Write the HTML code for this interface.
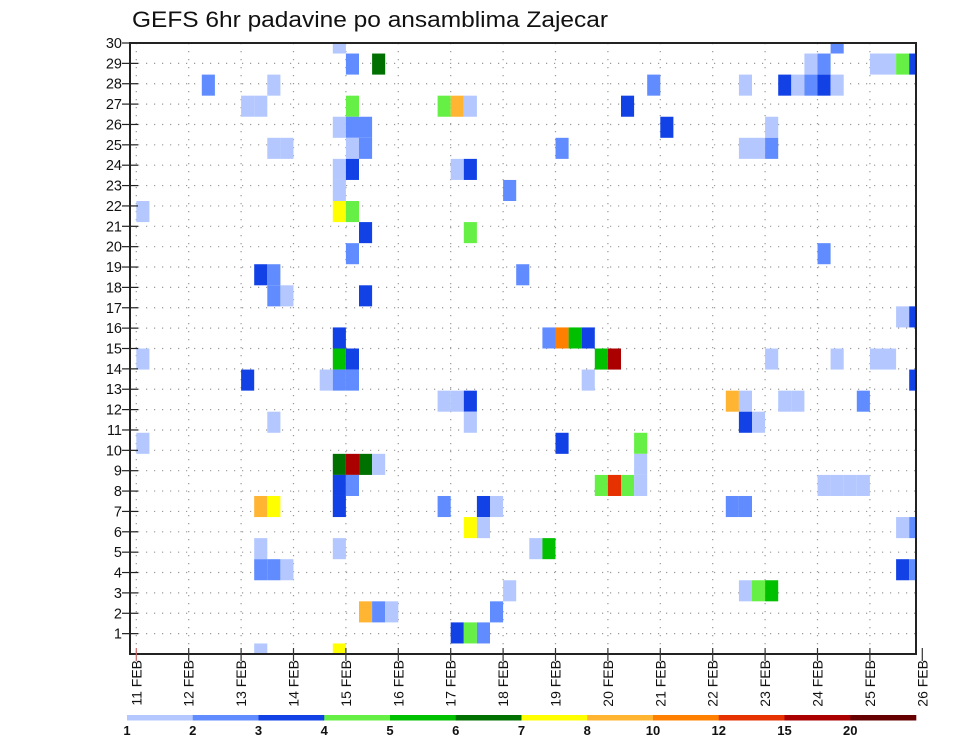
<!DOCTYPE html>
<html><head><meta charset="utf-8">
<style>
html,body{margin:0;padding:0;background:#fff;}
svg{display:block;font-family:"Liberation Sans","DejaVu Sans",sans-serif;}
</style></head>
<body>
<svg id="chart" width="960" height="742" viewBox="0 0 960 742" xmlns="http://www.w3.org/2000/svg">
<text x="132" y="27" font-size="22" textLength="476" lengthAdjust="spacingAndGlyphs" fill="#111">GEFS 6hr padavine po ansamblima Zajecar</text>
<g id="grid"></g>
<g id="cells"></g>
<rect x="130" y="43" width="786" height="611" fill="none" stroke="#222" stroke-width="2"/>
<g id="axes"></g>
<g id="colorbar"></g>
</svg>
<script>
const dayLabels = ["11 FEB","12 FEB","13 FEB","14 FEB","15 FEB","16 FEB","17 FEB","18 FEB","19 FEB","20 FEB","21 FEB","22 FEB","23 FEB","24 FEB","25 FEB","26 FEB"];
const memberTicks = [1,2,3,4,5,6,7,8,9,10,11,12,13,14,15,16,17,18,19,20,21,22,23,24,25,26,27,28,29,30];
const levelLabels = ["1","2","3","4","5","6","7","8","10","12","15","20"];
const levelColors = ["#b4c8ff","#608cff","#1242e6","#66f046","#00c000","#007000","#ffff00","#ffb432","#ff8000","#e63200","#aa0000","#660000"];
const cellRows = [29,29,28,28,28,28,28,28,28,28,27,27,27,27,27,27,27,27,27,26,26,26,26,26,26,26,25,25,25,25,25,24,24,24,24,24,24,24,24,23,23,23,23,22,22,21,21,21,20,20,19,19,18,18,18,17,17,17,16,16,15,15,15,15,15,14,14,14,14,14,14,14,14,14,13,13,13,13,13,13,12,12,12,12,12,12,12,12,11,11,11,11,10,10,10,9,9,9,9,9,8,8,8,8,8,8,8,8,8,8,7,7,7,7,7,7,7,7,6,6,6,6,5,5,5,5,4,4,4,4,4,3,3,3,3,2,2,2,2,1,1,1,0,0];
const cellCols = [15,53,16,18,51,52,56,57,58,59,5,10,39,46,49,50,51,52,53,8,9,16,23,24,25,37,15,16,17,40,48,10,11,16,17,32,46,47,48,15,16,24,25,15,28,0,15,16,17,25,16,52,9,10,29,10,11,17,58,59,15,31,32,33,34,0,15,16,35,36,48,53,56,57,8,14,15,16,34,59,23,24,25,45,46,49,50,55,10,25,46,47,0,32,38,15,16,17,18,38,15,16,35,36,37,38,52,53,54,55,9,10,15,23,26,27,45,46,25,26,58,59,9,15,30,31,9,10,11,58,59,28,46,47,48,17,18,19,27,24,25,26,9,15];
const cellLevels = [1,2,2,6,1,2,1,1,4,3,2,1,2,1,3,1,2,3,1,1,1,4,4,8,1,3,1,2,2,3,1,1,1,1,2,2,1,1,2,1,3,1,3,1,2,1,7,4,3,4,2,2,3,2,2,2,1,3,1,3,3,2,9,5,3,1,5,3,5,11,1,1,1,1,3,1,2,2,1,3,1,1,3,8,1,1,1,2,1,1,3,1,1,3,4,6,11,6,1,1,3,2,4,10,4,1,1,1,1,1,8,7,3,2,3,1,2,2,7,1,1,2,1,1,1,5,2,2,1,3,2,1,1,4,5,8,2,1,2,3,4,2,1,7];

const NS = "http://www.w3.org/2000/svg";
const PL = 130, PR = 916, PT = 43, PB = 654;
const X0 = 136.3, DAYW = 52.4, COLW = DAYW / 4;
const CELLH = (PB - PT) / 29, TICKH = (PB - PT) / 30;
function xDay(d){ return X0 + d * DAYW; }
function xCol(k){ return X0 + k * COLW; }
function yCellCenter(i){ return PB - i * CELLH; }
function yTick(v){ return PB - v * TICKH; }
function mk(tag, attrs, parent){ const e = document.createElementNS(NS, tag); for (const a in attrs) e.setAttribute(a, attrs[a]); parent.appendChild(e); return e; }

const grid = document.getElementById('grid');
memberTicks.forEach(v => {
  const y = yTick(v);
  const l = mk('line', {x1: PL, x2: PR, y1: y, y2: y, stroke: '#999', 'stroke-width': 1.2, 'stroke-dasharray': '1.2,6.8'}, grid);
  
  
});
dayLabels.forEach((d, i) => {
  const x = xDay(i);
  if (x > PR) return;
  const l = mk('line', {x1: x, x2: x, y1: PT, y2: PB, stroke: '#999', 'stroke-width': 1.2, 'stroke-dasharray': '1.2,6.8'}, grid);
  
  
});

const cells = document.getElementById('cells');
for (let n = 0; n < cellRows.length; n++) {
  let x1 = xCol(cellCols[n]), x2 = x1 + COLW;
  const yc = yCellCenter(cellRows[n]);
  let y1 = yc - CELLH / 2, y2 = yc + CELLH / 2;
  x1 = Math.max(x1, PL); x2 = Math.min(x2, PR);
  y1 = Math.max(y1, PT); y2 = Math.min(y2, PB);
  const r = mk('rect', {x: x1, y: y1, width: x2 - x1, height: y2 - y1, fill: levelColors[cellLevels[n] - 1]}, cells);
  
  
}

const axes = document.getElementById('axes');
memberTicks.forEach(v => {
  const y = yTick(v);
  const t = mk('line', {x1: 122, x2: 138, y1: y, y2: y, stroke: '#222', 'stroke-width': 1.2}, axes);
  
  
  const lb = mk('text', {x: 122, y: y + 5, 'font-size': 14.5, 'text-anchor': 'end', fill: '#111'}, axes);
  lb.textContent = v;
  
  
});
dayLabels.forEach((d, i) => {
  const x = xDay(i);
  const t = mk('line', {x1: x, x2: x, y1: PB - 6, y2: PB + 7, stroke: i === 0 ? '#c66' : '#333', 'stroke-width': 1.2}, axes);
  
  
  const lb = mk('text', {x: 0, y: 0, 'font-size': 14, 'text-anchor': 'end', fill: '#111', transform: 'translate(' + (x + 5) + ',' + (PB + 6) + ') rotate(-90)'}, axes);
  lb.textContent = d;
  
  
});

const cb = document.getElementById('colorbar');
const CB0 = 127, CB1 = 916, CBW = (CB1 - CB0) / levelColors.length;
levelColors.forEach((c, i) => {
  const r = mk('rect', {x: CB0 + i * CBW, y: 715, width: CBW + 0.3, height: 5.5, fill: c}, cb);
  
  
});
levelLabels.forEach((s, i) => {
  const t = mk('text', {x: CB0 + i * CBW, y: 735, 'font-size': 13, 'font-weight': 'bold', 'text-anchor': 'middle', fill: '#111'}, cb);
  t.textContent = s;
  
  
});
</script>
</body></html>
